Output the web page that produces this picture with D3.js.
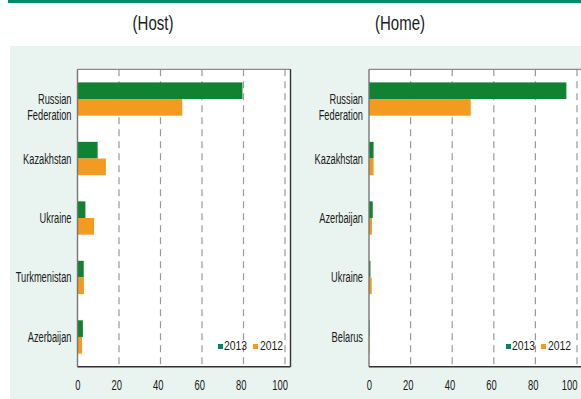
<!DOCTYPE html>
<html><head><meta charset="utf-8">
<script src="https://cdn.jsdelivr.net/npm/d3@7"></script>
<style>
body{margin:0;background:#fff;}
text{font-family:"Liberation Sans",Arial,sans-serif;fill:#1a1a1a;}
</style>
</head><body>
<svg id="c" width="581" height="399"></svg>
<script>
// ---- data ----
const series = ["2013", "2012"];
const titles = ["(Host)", "(Home)"];
const hostCategories = ["Russian Federation", "Kazakhstan", "Ukraine", "Turkmenistan", "Azerbaijan"];
const host2013 = [79.5, 9.7, 3.8, 3.0, 2.6];
const host2012 = [50.5, 13.7, 8.0, 3.1, 2.2];
const homeCategories = ["Russian Federation", "Kazakhstan", "Azerbaijan", "Ukraine", "Belarus"];
const home2013 = [94.9, 2.2, 1.8, 0.7, 0.3];
const home2012 = [48.9, 2.2, 1.4, 1.3, 0.3];
const xTicks = [0, 20, 40, 60, 80, 100];

// ---- styles ----
const C2013 = "#108231", C2012 = "#f39a21";
const L2013 = "#00876a";
const svg = d3.select("#c");

// condensed text: placed with a translate and squeezed horizontally
function ctext(parent, x, y, k, size, anchor, str) {
  return parent.append("text")
    .attr("transform", `translate(${x},${y}) scale(${k},1)`)
    .attr("text-anchor", anchor)
    .style("font-size", size + "px")
    .text(str);
}

// top rule and background
svg.append("rect").attr("x", 8).attr("y", 0).attr("width", 573).attr("height", 3).attr("fill", "#008a6c");
svg.append("rect").attr("x", 10).attr("y", 46).attr("width", 571).attr("height", 353).attr("fill", "#e9f3ef");

const panels = [
  {title: titles[0], tx: 153, cats: hostCategories, v13: host2013, v12: host2012, x0: 77.5, x100: 285, right: 290.5, leg: 218},
  {title: titles[1], tx: 400, cats: homeCategories, v13: home2013, v12: home2012, x0: 369, x100: 577, right: 590, leg: 506}
];
const plotTop = 69.3, plotBottom = 366.7;

panels.forEach(p => {
  const g = svg.append("g");
  ctext(g, p.tx, 30, 0.75, 20, "middle", p.title);

  const x = d3.scaleLinear().domain([0, 100]).range([p.x0, p.x100]);
  const y = d3.scaleBand().domain(p.cats).range([plotTop, plotBottom]);
  const ySub = d3.scaleBand().domain(series).range([0, y.bandwidth() * 0.56]);
  const off = (y.bandwidth() - ySub.range()[1]) / 2;

  // plot area
  g.append("rect").attr("x", p.x0).attr("y", plotTop).attr("width", p.right - p.x0).attr("height", plotBottom - plotTop)
    .attr("fill", "#fff");
  // grid
  g.selectAll(".grid").data(xTicks.filter(d => d > 0)).join("line")
    .attr("x1", d => x(d)).attr("x2", d => x(d)).attr("y1", plotTop).attr("y2", plotBottom)
    .attr("stroke", "#9a9a9a").attr("stroke-width", 1.2).attr("stroke-dasharray", "7,5");

  // bars
  const rows = p.cats.map((c, i) => ({c, vals: [p.v13[i], p.v12[i]]}));
  const rg = g.selectAll(".row").data(rows).join("g").attr("transform", d => `translate(0,${y(d.c) + off})`);
  rg.selectAll("rect").data(d => d.vals.map((v, j) => ({s: series[j], v}))).join("rect")
    .attr("x", x(0)).attr("y", d => ySub(d.s)).attr("height", ySub.bandwidth())
    .attr("width", d => x(d.v) - x(0))
    .attr("fill", d => d.s === "2013" ? C2013 : C2012);

  // borders
  g.append("line").attr("x1", p.x0).attr("x2", p.right).attr("y1", plotTop).attr("y2", plotTop).attr("stroke", "#8a8a8a").attr("stroke-width", 1.2);
  g.append("line").attr("x1", p.right).attr("x2", p.right).attr("y1", plotTop).attr("y2", plotBottom).attr("stroke", "#333").attr("stroke-width", 1.4);
  g.append("line").attr("x1", p.x0).attr("x2", p.x0).attr("y1", plotTop).attr("y2", plotBottom).attr("stroke", "#777").attr("stroke-width", 1.4);
  g.append("line").attr("x1", p.x0).attr("x2", p.right).attr("y1", plotBottom).attr("y2", plotBottom).attr("stroke", "#333").attr("stroke-width", 1.4);

  // x tick labels
  xTicks.forEach(d => ctext(g, Math.min(x(d) + 3, 577.5), 389.5, 0.65, 14.5, "end", d));

  // y labels
  rows.forEach(r => {
    const cy = y(r.c) + y.bandwidth() / 2;
    const words = r.c === "Russian Federation" ? ["Russian", "Federation"] : [r.c];
    words.forEach((w, k) => {
      const base = words.length === 2 ? cy + 5 + k * 16 : cy + 5;
      ctext(g, p.x0 - 6, base, 0.64, 14.5, "end", w);
    });
  });

  // legend
  const lg = g.append("g").attr("transform", `translate(${p.leg},344)`);
  lg.append("rect").attr("x", 0).attr("y", 0).attr("width", 5).attr("height", 5).attr("fill", L2013);
  ctext(lg, 6, 5.5, 0.77, 13.5, "start", series[0]);
  lg.append("rect").attr("x", 35).attr("y", 0).attr("width", 5).attr("height", 5).attr("fill", C2012);
  ctext(lg, 42, 5.5, 0.77, 13.5, "start", series[1]);
});
</script>
</body></html>
